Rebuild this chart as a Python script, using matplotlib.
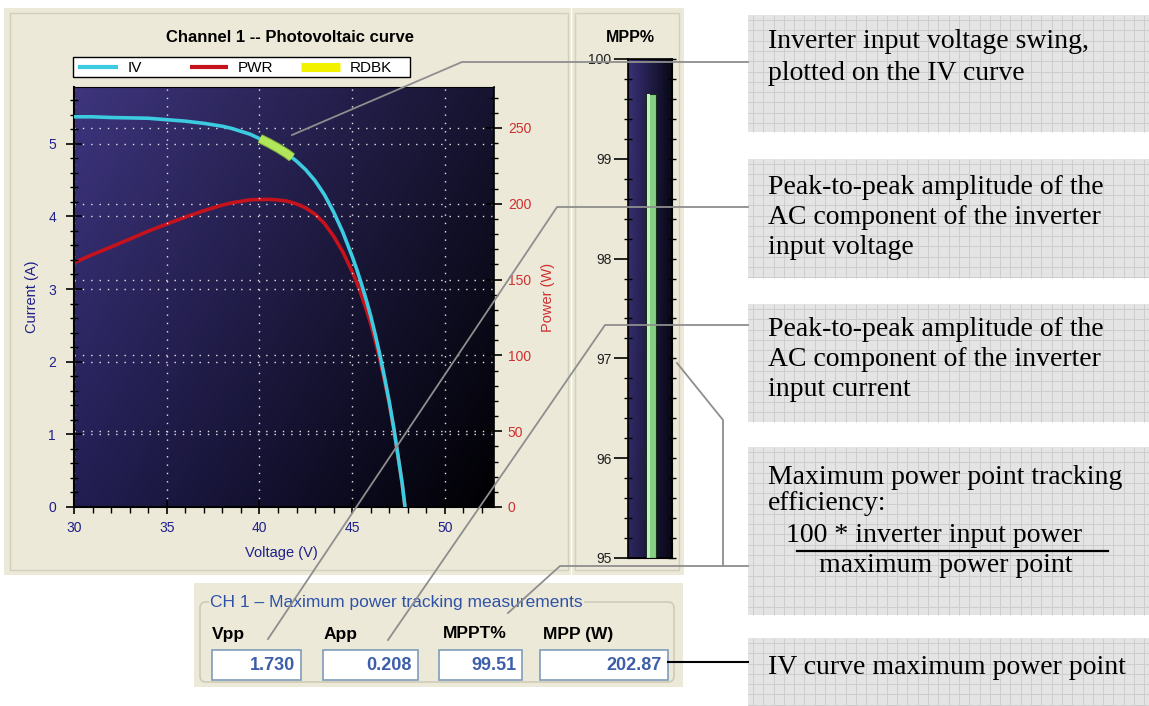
import numpy as np
import matplotlib
matplotlib.use("Agg")
import matplotlib.pyplot as plt
from matplotlib.patches import Rectangle, FancyBboxPatch
from matplotlib.collections import LineCollection
from matplotlib.ticker import MultipleLocator
import matplotlib.patheffects as pe

plt.rcParams['font.family'] = ['Liberation Sans', 'DejaVu Sans']

# ---------------- data ----------------
voltage = [30, 31, 32, 33, 34, 35, 36, 37, 38, 38.5, 39, 39.5, 40, 40.5, 41, 41.5,
           42, 42.5, 43, 43.5, 44, 44.5, 45, 45.25, 45.5, 45.75, 46, 46.25, 46.5,
           46.75, 47, 47.25, 47.5, 47.7, 47.85]
current = [5.37, 5.37, 5.36, 5.355, 5.35, 5.33, 5.31, 5.28, 5.24, 5.21, 5.17, 5.13,
           5.07, 5.01, 4.94, 4.86, 4.76, 4.64, 4.49, 4.30, 4.06, 3.78, 3.45, 3.27,
           3.07, 2.86, 2.63, 2.37, 2.09, 1.78, 1.45, 1.08, 0.66, 0.32, 0.0]
power = [161.1, 166.5, 171.5, 176.7, 181.9, 186.6, 191.2, 195.4, 199.1, 200.6, 201.6,
         202.6, 202.8, 202.9, 202.5, 201.7, 199.9, 197.2, 193.1, 187.1, 178.6, 168.2,
         155.3, 148.0, 139.7, 130.8, 121.0, 109.6, 97.2, 83.2, 68.2, 51.0, 31.4, 15.3, 0.0]
rdbk_voltage = [40.03, 40.5, 41.0, 41.5, 41.76]
rdbk_current = [5.07, 5.01, 4.94, 4.86, 4.81]
series_labels = ["IV", "PWR", "RDBK"]
mpp_bar_value = 99.65
meas_labels = ["Vpp", "App", "MPPT%", "MPP (W)"]
meas_values = ["1.730", "0.208", "99.51", "202.87"]
box_texts = [
    ["Inverter input voltage swing,", "plotted on the IV curve"],
    ["Peak-to-peak amplitude of the", "AC component of the inverter", "input voltage"],
    ["Peak-to-peak amplitude of the", "AC component of the inverter", "input current"],
    ["Maximum power point tracking", "efficiency:"],
    ["IV curve maximum power point"],
]
fraction_num = "100 * inverter input power"
fraction_den = "maximum power point"

# ---------------- figure ----------------
W, H = 1149, 706
fig = plt.figure(figsize=(W / 100, H / 100), dpi=100)
fig.patch.set_facecolor('white')


def fax(x0, y0, x1, y1):
    return [x0 / W, 1 - y1 / H, (x1 - x0) / W, (y1 - y0) / H]


bg = fig.add_axes([0, 0, 1, 1])
bg.set_xlim(0, W); bg.set_ylim(H, 0); bg.axis('off'); bg.set_zorder(0)
fg = fig.add_axes([0, 0, 1, 1])
fg.set_xlim(0, W); fg.set_ylim(H, 0); fg.axis('off'); fg.set_zorder(20)
fg.patch.set_visible(False)

BEIGE = '#ece9d8'
GROOVE = '#d3cfbd'
# main panels
bg.add_patch(Rectangle((4, 8), 680, 567, fc=BEIGE, ec='none'))
bg.add_patch(Rectangle((10, 13), 558, 557, fc='none', ec=GROOVE, lw=1))
bg.add_patch(Rectangle((575, 13), 104, 557, fc='none', ec=GROOVE, lw=1))
bg.plot([571, 571], [8, 575], color='white', lw=1)

# title
bg.text(290, 37, "Channel 1 -- Photovoltaic curve", ha='center', va='center',
        fontsize=12, fontweight='bold', color='black')
bg.text(630, 37, "MPP%", ha='center', va='center', fontsize=11.5,
        fontweight='bold', color='black')

# measurement panel
bg.add_patch(Rectangle((194, 583), 489, 104, fc=BEIGE, ec='none'))
bg.add_patch(FancyBboxPatch((200, 602), 474, 80, boxstyle='round,pad=0,rounding_size=6',
                            fc='none', ec='#cfcbb9', lw=1.2))
bg.text(210, 602, "CH 1 \u2013 Maximum power tracking measurements", ha='left', va='center',
        fontsize=12.5, color='#2f52a8', bbox=dict(fc=BEIGE, ec='none', pad=1))
label_x = [212, 324, 443, 543]
box_x = [(212, 301), (323, 418), (439, 522), (540, 668)]
for lab, val, lx, (x0, x1) in zip(meas_labels, meas_values, label_x, box_x):
    bg.text(lx, 634, lab, ha='left', va='center', fontsize=12.5, fontweight='bold',
            color='black')
    bg.add_patch(Rectangle((x0, 650), x1 - x0, 30, fc='white', ec='#7f9db9', lw=1.2))
    bg.text(x1 - 6, 665, val, ha='right', va='center', fontsize=13, fontweight='bold',
            color='#3d5ea8')

# right-hand note boxes with grid texture
boxes = [(748, 15, 1149, 132), (748, 159, 1149, 278), (748, 304, 1149, 422),
         (748, 447, 1149, 615), (748, 638, 1149, 706)]
segs = []
for (x0, y0, x1, y1) in boxes:
    bg.add_patch(Rectangle((x0, y0), x1 - x0, y1 - y0, fc='#e4e4e4', ec='none'))
    for gx in np.arange(x0 + 5, x1, 10.3):
        segs.append([(gx, y0), (gx, y1)])
    for gy in np.arange(y0 + 5, y1, 10.3):
        segs.append([(x0, gy), (x1, gy)])
bg.add_collection(LineCollection(segs, colors='#cdcdcd', linewidths=0.7))

SERIF = ['Liberation Serif', 'DejaVu Serif']
line_y = [[42, 73], [188, 217, 247], [330, 360, 390], [477, 504], [667]]
for lines, ys in zip(box_texts, line_y):
    for t, y in zip(lines, ys):
        bg.text(768, y, t, ha='left', va='center', fontsize=20, family=SERIF, color='black')
bg.text(934, 536, fraction_num, ha='center', va='center', fontsize=20, family=SERIF)
bg.plot([797, 1108], [551, 551], color='black', lw=1.6)
bg.text(946, 566, fraction_den, ha='center', va='center', fontsize=20, family=SERIF)

# ---------------- PV curve axes ----------------
BLUE = '#1f1f8c'
RED = '#cf3030'
ax = fig.add_axes(fax(74, 87, 494, 507))
ax2 = ax.twinx()
ax.set_zorder(6); ax2.set_zorder(5)
ax.patch.set_visible(False)

xmin, xmax = 30, 52.65
imin, imax = 0, 5.78
pmin, pmax = 0, 277

# gradient background
ny, nx = 200, 200
u = np.linspace(0, 1, nx)[None, :]
v = np.linspace(0, 1, ny)[:, None]
TL = np.array([62, 53, 126]) / 255
TR = np.array([22, 20, 48]) / 255
BL = np.array([34, 30, 82]) / 255
BR = np.array([0, 0, 2]) / 255
grad = ((1 - u) * (1 - v))[..., None] * TL + (u * (1 - v))[..., None] * TR + \
       ((1 - u) * v)[..., None] * BL + (u * v)[..., None] * BR
ax2.imshow(grad, extent=[xmin, xmax, pmin, pmax], aspect='auto', origin='upper', zorder=0)

ax2.plot(voltage, power, color='#c5121c', lw=2.6, zorder=3, solid_capstyle='round')
ax.plot(voltage, current, color='#3ccbe0', lw=2.6, zorder=3)
ax.plot(rdbk_voltage, rdbk_current, color='#b2e65a', lw=5.5, zorder=4,
        solid_capstyle='butt',
        path_effects=[pe.Stroke(linewidth=7, foreground='#7aa838'), pe.Normal()])

ax.set_xlim(xmin, xmax); ax.set_ylim(imin, imax)
ax2.set_xlim(xmin, xmax); ax2.set_ylim(pmin, pmax)

grid_kw = dict(color='#e6e6e6', lw=1.0, ls=(0, (1, 5)))
ax.grid(True, axis='both', which='major', **grid_kw)
ax2.grid(True, axis='y', which='major', **grid_kw)

ax.xaxis.set_major_locator(MultipleLocator(5))
ax.xaxis.set_minor_locator(MultipleLocator(1))
ax.yaxis.set_major_locator(MultipleLocator(1))
ax.yaxis.set_minor_locator(MultipleLocator(0.2))
ax2.yaxis.set_major_locator(MultipleLocator(50))
ax2.yaxis.set_minor_locator(MultipleLocator(10))

ax.tick_params(axis='x', which='major', direction='inout', length=10, width=1.2,
               color='black', labelsize=10, labelcolor=BLUE, pad=5)
ax.tick_params(axis='x', which='minor', direction='out', length=4, width=1, color='black')
ax.tick_params(axis='y', which='major', direction='inout', length=12, width=1.2,
               color='black', labelsize=10, labelcolor=BLUE, pad=7)
ax.tick_params(axis='y', which='minor', direction='inout', length=6, width=1, color='black')
ax2.tick_params(axis='y', which='major', direction='inout', length=12, width=1.2,
                color='black', labelsize=10, labelcolor=RED, pad=4)
ax2.tick_params(axis='y', which='minor', direction='inout', length=6, width=1, color='black')

for s in ['left', 'bottom']:
    ax.spines[s].set_color('black'); ax.spines[s].set_linewidth(1.5)
ax.spines['right'].set_visible(False)
ax.spines['top'].set_color('black')
for s in ['left', 'bottom', 'top']:
    ax2.spines[s].set_visible(False)
ax2.spines['right'].set_color('black'); ax2.spines['right'].set_linewidth(1.2)

ax.set_xlabel("Voltage (V)", fontsize=10.5, color=BLUE)
ax.xaxis.set_label_coords(0.494, -0.093)
ax.set_ylabel("Current (A)", fontsize=10.5, color=BLUE)
ax.yaxis.set_label_coords(-0.083, 0.5)
ax2.set_ylabel("Power (W)", fontsize=10.5, color=RED)
ax2.yaxis.set_label_coords(1.113, 0.5)

# legend (drawn as a box above the plot)
fg.add_patch(Rectangle((73, 57), 337, 20, fc='white', ec='black', lw=1))
leg_colors = ['#3ccbe0', '#c5121c', '#f2f200']
leg_lw = [3, 3, 6.5]
leg_x = [(78, 118), (190, 228), (301, 340)]
for lab, col, lw, (x0, x1) in zip(series_labels, leg_colors, leg_lw, leg_x):
    fg.plot([x0, x1], [67, 67], color=col, lw=lw, solid_capstyle='butt')
    fg.text(x1 + 10, 67.5, lab, ha='left', va='center', fontsize=11, color='black')

# ---------------- MPP% bar ----------------
ax3 = fig.add_axes(fax(628, 59, 672, 558))
ax3.set_zorder(6)
u3 = np.linspace(0, 1, 100)[None, :]
v3 = np.linspace(0, 1, 200)[:, None]
L = np.array([58, 50, 120]) / 255
R = np.array([8, 8, 22]) / 255
g3 = ((1 - u3) * (1 - 0.25 * v3))[..., None] * L + (u3 + (1 - u3) * 0.25 * v3)[..., None] * R
ax3.imshow(g3, extent=[0, 1, 95, 100], aspect='auto', origin='upper', zorder=0)
ax3.bar([0.523], [mpp_bar_value - 95], bottom=95, width=0.227, color='#86d086',
        edgecolor='#163016', lw=0.8, zorder=3)
ax3.bar([0.46], [mpp_bar_value - 95], bottom=95, width=0.07, color='#c4f0c4',
        edgecolor='none', zorder=4)
ax3.set_xlim(0, 1); ax3.set_ylim(95, 100)
ax3.set_xticks([])
ax3.yaxis.set_major_locator(MultipleLocator(1))
ax3.yaxis.set_minor_locator(MultipleLocator(0.2))
ax3.tick_params(axis='y', which='major', direction='out', length=10, width=1.2,
                color='black', labelsize=10, labelcolor='#202020', pad=2)
ax3.tick_params(axis='y', which='minor', direction='inout', length=6, width=1, color='black')
for s in ax3.spines.values():
    s.set_color('black'); s.set_linewidth(1.2)
ax3b = ax3.twinx()
ax3b.set_ylim(95, 100)
ax3b.yaxis.set_major_locator(MultipleLocator(1))
ax3b.yaxis.set_minor_locator(MultipleLocator(0.2))
ax3b.tick_params(axis='y', which='both', direction='inout', length=6, width=1,
                 color='black', labelright=False)
ax3b.set_zorder(7)

# ---------------- leader lines ----------------
GR = '#8e8e8e'
leaders = [
    [(748, 62), (462, 62), (292, 135)],
    [(748, 207), (557, 207), (268, 639)],
    [(748, 325), (605, 325), (388, 640)],
    [(677, 363), (723, 420), (723, 566), (748, 566)],
    [(723, 566), (560, 566), (508, 613)],
]
for pts in leaders:
    xs, ys = zip(*pts)
    fg.plot(xs, ys, color=GR, lw=1.3, solid_joinstyle='miter')
fg.plot([668, 748], [662, 662], color='black', lw=1.5)

fig.savefig("out.png", dpi=100)
